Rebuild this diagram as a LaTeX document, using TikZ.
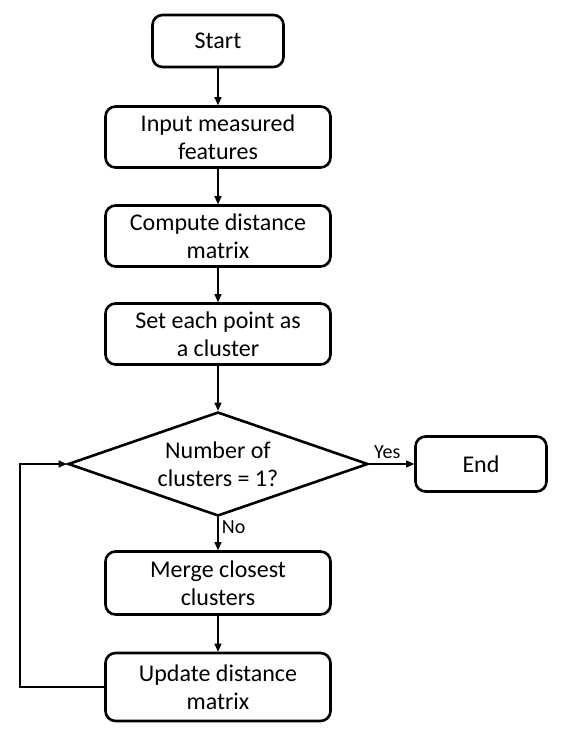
\documentclass[tikz,border=0pt]{standalone}
\usepackage{fontspec}
\setmainfont{Carlito}
\usepackage{tikz}
\usetikzlibrary{shapes.geometric,arrows.meta,positioning}

\tikzset{
	boxnode/.style={draw, line width=2.6pt, rounded corners=10pt, minimum width=225pt, minimum height=61pt, align=center, font=\fontsize{24}{28}\selectfont},
	decnode/.style={draw, line width=2.6pt, diamond, aspect=2.9, minimum width=300pt, minimum height=104pt, inner sep=0pt, align=center, font=\fontsize{24}{28}\selectfont},
	arr/.style={line width=1.2pt, -{Triangle[width=7pt,length=8pt]}},
	lbl/.style={font=\fontsize{20}{23}\selectfont}
}

\begin{document}
\begin{tikzpicture}[x=1pt,y=-1pt]
		\useasboundingbox (0,0) rectangle (560,731);
		\node[boxnode, minimum width=131pt, minimum height=52pt] (start) at (218,41) {Start};
		\node[boxnode] (input) at (218,137) {Input measured\\features};
		\node[boxnode] (dist) at (218,236) {Compute distance\\matrix};
		\node[boxnode] (init) at (218,334) {Set each point as\\a cluster};
		\node[decnode] (check) at (218,464) {Number of\\clusters = 1?};
		\node[boxnode, minimum width=131pt, minimum height=55pt] (end) at (481,464) {End};
		\node[boxnode, minimum height=63pt] (merge) at (218,583) {Merge closest\\clusters};
		\node[boxnode, minimum height=68pt] (update) at (218,687) {Update distance\\matrix};
		\coordinate (c1) at (20,687);
		\coordinate (c2) at (20,464);
		\draw[arr] (start)--(input);
		\draw[arr] (input)--(dist);
		\draw[arr] (dist)--(init);
		\draw[arr] (init)--(check);
		\draw[arr] (check)--(end) node[lbl, pos=0.4, above, yshift=1pt] {Yes};
		\draw[arr] (check)--(merge) node[lbl, pos=0.3, right] {No};
		\draw[arr] (merge)--(update);
		\draw[arr] (update.west)--(c1)--(c2)--(check.west);
\end{tikzpicture}
\end{document}
